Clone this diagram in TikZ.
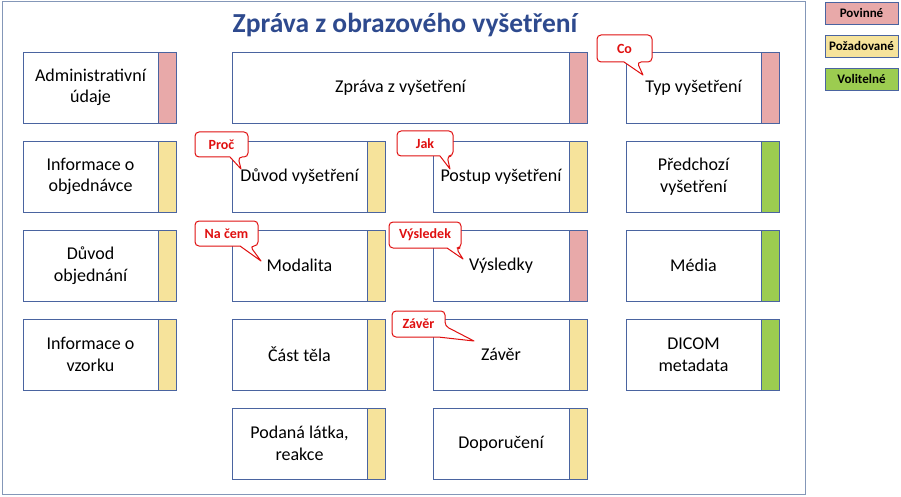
\documentclass[tikz,border=0pt]{standalone}
\usepackage{fontspec}
\setmainfont{Carlito}
\usetikzlibrary{positioning}

\definecolor{povinne}{HTML}{E8A9A9}
\definecolor{pozadovane}{HTML}{F6E39B}
\definecolor{volitelne}{HTML}{9CCC50}
\definecolor{okraj}{HTML}{4A64A0}
\definecolor{ramec}{HTML}{8497B8}
\definecolor{nadpis}{HTML}{2E4A8E}
\definecolor{bublina}{HTML}{E01010}

\tikzset{
    karta/.style={draw=okraj, line width=0.9pt, fill=white},
    popis/.style={align=center, font=\fontsize{18}{21.5}\selectfont},
    legenda/.style={draw=okraj, line width=0.9pt, minimum width=73pt, minimum height=22pt,
        inner sep=0pt, font=\bfseries\fontsize{13}{15}\selectfont},
    bubbox/.style={draw=bublina, line width=1pt, fill=white, line join=round},
    bubtext/.style={text=bublina, font=\bfseries\fontsize{14}{16}\selectfont}
}

\begin{document}
\begin{tikzpicture}[x=1pt, y=-1pt]

        \useasboundingbox (0, 0) rectangle (901, 497);

        % --- Ramec a nadpis ---
        \draw[ramec, line width=1pt] (2, 2) rectangle (805, 494);
        \node[text=nadpis, font=\bfseries\fontsize{27.5}{32}\selectfont] (nadpis) at (405, 25) {Zpráva z obrazového vyšetření};

        % --- Legenda vpravo ---
        \node[legenda, fill=povinne] (lpov) at (861.5, 13) {Povinné};
        \node[legenda, fill=pozadovane] (lpoz) at (861.5, 46) {Požadované};
        \node[legenda, fill=volitelne] (lvol) at (861.5, 79) {Volitelné};

        % --- Karty (x1/y1/x2/y2/barva/nazev/text) ---
        \foreach \xa/\ya/\xb/\yb/\barva/\jmeno/\text in {
            23/52/176/123/povinne/admin/{Administrativní\\údaje},
            23/141/176/212/pozadovane/objed/{Informace o\\objednávce},
            23/230/176/301/pozadovane/duvobj/{Důvod\\objednání},
            23/319/176/390/pozadovane/vzorek/{Informace o\\vzorku},
            232/52/587/123/povinne/zprava/{Zpráva z vyšetření},
            232/141/385/212/pozadovane/duvod/{Důvod vyšetření},
            232/230/385/301/pozadovane/modalita/{Modalita},
            232/319/385/390/pozadovane/telo/{Část těla},
            232/408/385/479/pozadovane/latka/{Podaná látka,\\reakce},
            433/141/587/212/pozadovane/postup/{Postup vyšetření},
            433/230/587/301/povinne/vysledky/{Výsledky},
            433/319/587/390/pozadovane/zaver/{Závěr},
            433/408/587/479/pozadovane/doporuceni/{Doporučení},
            626/52/779/123/povinne/typ/{Typ vyšetření},
            626/141/779/212/volitelne/predchozi/{Předchozí\\vyšetření},
            626/230/779/301/volitelne/media/{Média},
            626/319/779/390/volitelne/dicom/{DICOM\\metadata}} {
            \draw[karta] (\xa, \ya) rectangle (\xb, \yb);
            % barevny pruh vpravo
            \filldraw[fill=\barva, draw=okraj, line width=0.9pt] (\xb-18, \ya) rectangle (\xb, \yb);
            \node[popis] (\jmeno) at ({(\xa+\xb-18)/2}, {(\ya+\yb)/2}) {\text};
        }

        % --- Bubliny (x1/y1/x2/y2/patka A/patka B/spicka/text) ---
        \foreach \xa/\ya/\xb/\yb/\pa/\pb/\sx/\sy/\jmeno/\text in {
            597/35/652/62/624/637/643/75/bco/Co,
            195/132/248/157/230/238/241/169/bproc/Proč,
            397/131/453/156/440/447/450/169/bjak/Jak,
            195/221/258/246/240/250/261/261/bnacem/Na čem,
            389/222/461/248/447/456/463/259/bvysl/Výsledek} {
            \draw[bubbox] (\xa, \ya) [rounded corners=4pt] -- (\xb, \ya) -- (\xb, \yb) -- (\pb, \yb)
                [sharp corners] -- (\sx, \sy) -- (\pa, \yb) [rounded corners=4pt] -- (\xa, \yb) -- cycle;
            \node[bubtext] (\jmeno) at ({(\xa+\xb)/2}, {(\ya+\yb)/2}) {\text};
        }

        % bublina Zaver ma spicku z praveho rohu
        \draw[bubbox] (392, 311) [rounded corners=4pt] -- (445, 311) -- (445, 326)
            [sharp corners] -- (474, 341) -- (438, 337) [rounded corners=4pt] -- (392, 337) -- cycle;
        \node[bubtext] (bzaver) at (418.5, 324) {Závěr};

    \end{tikzpicture}
\end{document}
